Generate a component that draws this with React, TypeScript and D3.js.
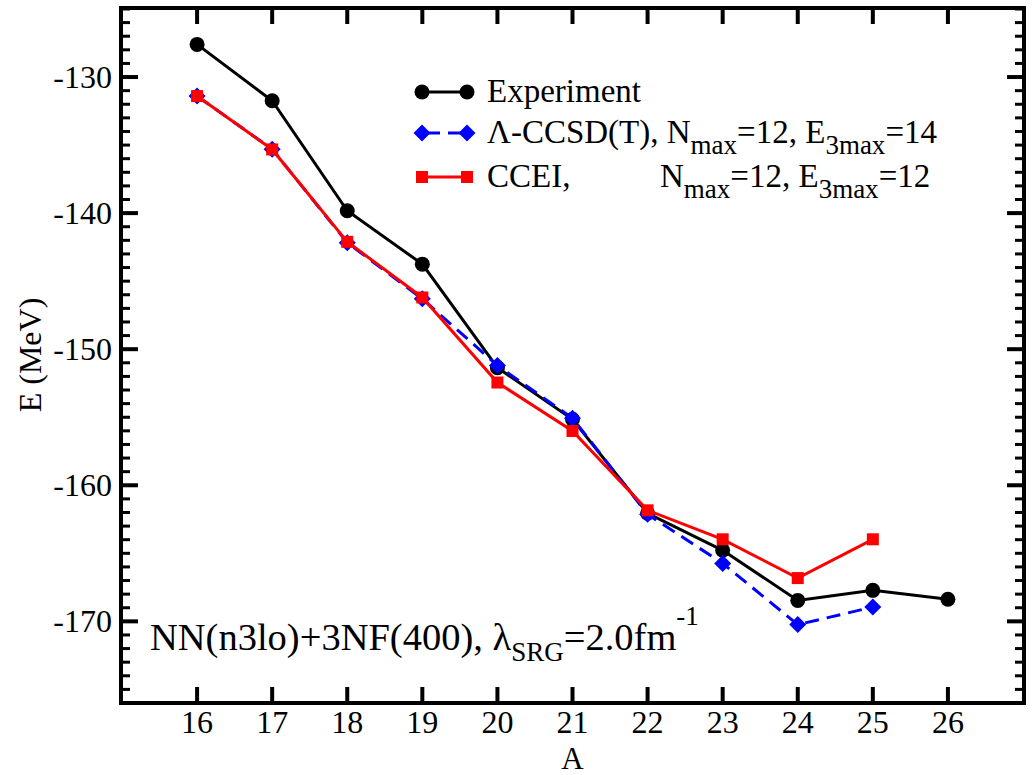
import React from "react";
import * as d3 from "d3";

const massNumbers = [16, 17, 18, 19, 20, 21, 22, 23, 24, 25, 26];
const experiment = [-127.6, -131.74, -139.83, -143.75, -151.36, -155.15, -162.06, -164.78, -168.46, -167.72, -168.38];
const ccsdA = [16, 17, 18, 19, 20, 21, 22, 23, 24, 25];
const ccsdT = [-131.4, -135.3, -142.17, -146.3, -151.2, -155.07, -162.13, -165.74, -170.24, -168.95];
const cceiA = [16, 17, 18, 19, 20, 21, 22, 23, 24, 25];
const ccei = [-131.4, -135.32, -142.11, -146.2, -152.45, -156.01, -161.84, -163.97, -166.82, -163.97];
const xTicks = [16, 17, 18, 19, 20, 21, 22, 23, 24, 25, 26];
const yMajorTicks = [-170, -160, -150, -140, -130];

const FONT = "'Liberation Serif', 'Times New Roman', serif";

export default function App() {
  const W = 1033, H = 775;
  const L = 121, R = 1024, T = 8, B = 703;
  const x = d3.scaleLinear().domain([15, 27]).range([122, 1023]);
  const y = d3.scaleLinear().domain([-176, -125]).range([B, 9]);
  const line = d3.line<[number, number]>().x(d => x(d[0])).y(d => y(d[1]));
  const expPts: [number, number][] = massNumbers.map((a, i) => [a, experiment[i]]);
  const ccsdPts: [number, number][] = ccsdA.map((a, i) => [a, ccsdT[i]]);
  const cceiPts: [number, number][] = cceiA.map((a, i) => [a, ccei[i]]);
  const minorY = d3.range(-175, -125 + 0.5, 1).filter(v => v % 10 !== 0);

  const diamond = (cx: number, cy: number, r = 8.5) =>
    `M${cx},${cy - r}L${cx + r},${cy}L${cx},${cy + r}L${cx - r},${cy}Z`;

  const legX1 = 422, legX2 = 467, textX = 487;
  const rowY = [92, 133, 177];
  const SUB = 27;

  return (
    <svg width={W} height={H} style={{ position: "absolute", left: 0, top: 0, background: "#fff" }} fontFamily={FONT}>
      <rect x={0} y={0} width={W} height={H} fill="#fff" />
      {/* ticks */}
      {xTicks.map(t => (
        <g key={"xt" + t}>
          <line x1={x(t)} x2={x(t)} y1={B} y2={B - 16} stroke="#000" strokeWidth={4} />
          <line x1={x(t)} x2={x(t)} y1={T} y2={T + 16} stroke="#000" strokeWidth={4} />
          <text x={x(t)} y={733} fontSize={32} textAnchor="middle">{t}</text>
        </g>
      ))}
      {yMajorTicks.map(t => (
        <g key={"yt" + t}>
          <line x1={L} x2={L + 17} y1={y(t)} y2={y(t)} stroke="#000" strokeWidth={4} />
          <line x1={R} x2={R - 17} y1={y(t)} y2={y(t)} stroke="#000" strokeWidth={4} />
          <text x={112} y={y(t) + 11} fontSize={32} textAnchor="end">{t}</text>
        </g>
      ))}
      {minorY.map(t => (
        <g key={"ym" + t}>
          <line x1={L} x2={L + 9} y1={y(t)} y2={y(t)} stroke="#000" strokeWidth={3} />
          <line x1={R} x2={R - 9} y1={y(t)} y2={y(t)} stroke="#000" strokeWidth={3} />
        </g>
      ))}
      <rect x={L} y={T} width={R - L} height={B - T} fill="none" stroke="#000" strokeWidth={4} />

      {/* axis labels */}
      <text x={572.5} y={769} fontSize={31} textAnchor="middle">A</text>
      <text transform="translate(41,355) rotate(-90)" fontSize={32} textAnchor="middle">E (MeV)</text>

      {/* experiment */}
      <path d={line(expPts) || ""} fill="none" stroke="#000" strokeWidth={3} />
      {expPts.map((p, i) => (
        <circle key={"e" + i} cx={x(p[0])} cy={y(p[1])} r={7.5} fill="#000" />
      ))}
      {/* CCSD(T) */}
      <path d={line(ccsdPts) || ""} fill="none" stroke="#0000ff" strokeWidth={3} strokeDasharray="14,8" />
      {ccsdPts.map((p, i) => (
        <path key={"c" + i} d={diamond(x(p[0]), y(p[1]))} fill="#0000ff" />
      ))}
      {/* CCEI */}
      <path d={line(cceiPts) || ""} fill="none" stroke="#ff0000" strokeWidth={3} />
      {cceiPts.map((p, i) => (
        <rect key={"r" + i} x={x(p[0]) - 6} y={y(p[1]) - 6} width={12} height={12} fill="#ff0000" />
      ))}

      {/* legend */}
      <line x1={legX1} x2={legX2} y1={rowY[0]} y2={rowY[0]} stroke="#000" strokeWidth={3} />
      <circle cx={legX1} cy={rowY[0]} r={7.5} fill="#000" />
      <circle cx={legX2} cy={rowY[0]} r={7.5} fill="#000" />
      <text x={textX} y={rowY[0] + 10} fontSize={33}>Experiment</text>

      <line x1={legX1} x2={legX2} y1={rowY[1]} y2={rowY[1]} stroke="#0000ff" strokeWidth={3} strokeDasharray="14,8" strokeDashoffset={-4} />
      <path d={diamond(legX1, rowY[1])} fill="#0000ff" />
      <path d={diamond(legX2, rowY[1])} fill="#0000ff" />
      <text x={textX} y={rowY[1] + 10} fontSize={33}>
        Λ-CCSD(T), N<tspan fontSize={SUB} dy={11}>max</tspan><tspan dy={-11}>=12, E</tspan><tspan fontSize={SUB} dy={11}>3max</tspan><tspan dy={-11}>=14</tspan>
      </text>

      <line x1={legX1} x2={legX2} y1={rowY[2]} y2={rowY[2]} stroke="#ff0000" strokeWidth={3} />
      <rect x={legX1 - 6} y={rowY[2] - 6} width={12} height={12} fill="#ff0000" />
      <rect x={legX2 - 6} y={rowY[2] - 6} width={12} height={12} fill="#ff0000" />
      <text x={textX} y={rowY[2] + 10} fontSize={33}>CCEI,</text>
      <text x={660} y={rowY[2] + 10} fontSize={33}>
        N<tspan fontSize={SUB} dy={11}>max</tspan><tspan dy={-11}>=12, E</tspan><tspan fontSize={SUB} dy={11}>3max</tspan><tspan dy={-11}>=12</tspan>
      </text>

      {/* annotation */}
      <text x={150} y={650} fontSize={38.5}>
        NN(n3lo)+3NF(400), λ<tspan fontSize={27} dy={11}>SRG</tspan><tspan dy={-11}>=2.0fm</tspan><tspan fontSize={27} dy={-25}>-1</tspan>
      </text>
    </svg>
  );
}
